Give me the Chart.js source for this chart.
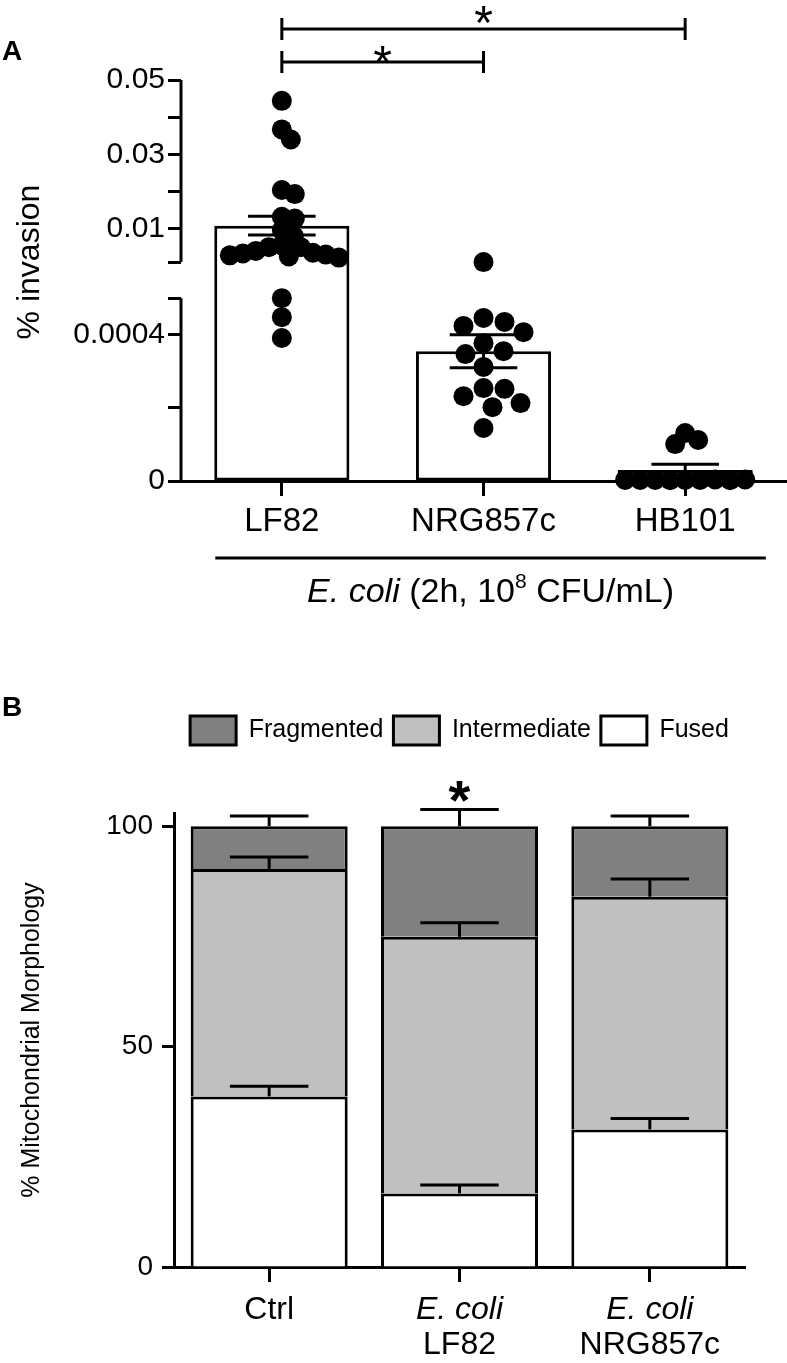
<!DOCTYPE html>
<html>
<head>
<meta charset="utf-8">
<script src="https://cdn.jsdelivr.net/npm/chart.js@4.4.0/dist/chart.umd.min.js"></script>
<style>
  html, body { margin: 0; padding: 0; background: #fff; }
  #wrap { position: relative; width: 787px; height: 1363px; }
  #chartA { position: absolute; left: 0; top: 0; }
  #chartB { position: absolute; left: 0; top: 625px; }
</style>
</head>
<body>
<div id="wrap">
  <canvas id="chartA" width="787" height="625"></canvas>
  <canvas id="chartB" width="787" height="738"></canvas>
</div>
<script>
const FONT = "'Liberation Sans', Arial, Helvetica, sans-serif";
Chart.defaults.font.family = FONT;
Chart.defaults.color = '#000';

// ---- panel A data ----
const strainsA = ['LF82', 'NRG857c', 'HB101'];
const invasionMean = [0.0108, 0.000355, 0.00003];
const invasionSem = [0.0025, 0.000045, 0.000016];
const lf82Dots = [0.0444, 0.0367, 0.0340, 0.0204, 0.0193, 0.0132, 0.0127, 0.0096, 0.0080,
  0.0055, 0.0050, 0.0050, 0.0040, 0.0035, 0.0033, 0.0030, 0.0028, 0.0025, 0.0022,
  0.0005, 0.000448, 0.000391];
const nrgDots = [0.001, 0.000446, 0.000435, 0.000424, 0.000407, 0.000377, 0.000355, 0.000347,
  0.000312, 0.000254, 0.000252, 0.000232, 0.000213, 0.000202, 0.000145];
const hb101Dots = [0.000131, 0.000112, 0.000101, 0.000003, 0.000003, 0.000002, 0.000004,
  0.000003, 0.000002, 0.000003, 0.000004, 0.000003];
const yTicksA = [0, 0.0002, 0.0004, 0.0005, 0.001, 0.01, 0.02, 0.03, 0.04, 0.05];
const yTickLabelsA = ['0', '', '0.0004', '', '', '0.01', '', '0.03', '', '0.05'];
const yTitleA = '% invasion';
const sigPairsA = [[0, 2], [0, 1]];
const groupCaption = [
  { text: 'E. coli', italic: true },
  { text: ' (2h, 10' },
  { text: '8', sup: true },
  { text: ' CFU/mL)' }
];

// ---- panel B data ----
const conditionsB = [['Ctrl'], ['E. coli', 'LF82'], ['E. coli', 'NRG857c']];
const speciesName = 'E. coli';
const morphNames = ['Fused', 'Intermediate', 'Fragmented'];
const fused = [38.7, 16.7, 31.2];
const intermediate = [51.6, 58.2, 52.8];
const fragmented = [9.7, 25.1, 16.0];
const fusedSem = [2.3, 1.9, 2.5];
const intermediateSem = [2.7, 3.2, 4.0];
const fragmentedSem = [2.3, 3.8, 2.3];
const starredB = [1];

const morphSeries = [fused, intermediate, fragmented];
const morphSem = [fusedSem, intermediateSem, fragmentedSem];
const morphColors = ['#ffffff', '#c0c0c0', '#808080'];

// linear axis with a break between two value ranges
class BrokenLinearScale extends Chart.LinearScale {
  static id = 'brokenLinear';

  toDecimal(v) {
    const { low, high, lowFrac, gapFrac } = this.options.brk;
    if (v <= low) return v / low * lowFrac;
    if (v < high) return lowFrac + (v - low) / (high - low) * gapFrac;
    return lowFrac + gapFrac + (v - high) / (this.max - high) * (1 - lowFrac - gapFrac);
  }
  getPixelForValue(v) {
    if (v === null || isNaN(v)) return NaN;
    return this.getPixelForDecimal(this.toDecimal(v));
  }
  getValueForPixel(p) {
    const { low, high, lowFrac, gapFrac } = this.options.brk;
    const d = this.getDecimalForPixel(p);
    if (d <= lowFrac) return d / lowFrac * low;
    if (d < lowFrac + gapFrac) return low + (d - lowFrac) / gapFrac * (high - low);
    return high + (d - lowFrac - gapFrac) / (1 - lowFrac - gapFrac) * (this.max - high);
  }
  buildTicks() {
    return this.options.tickValues.map(v => ({ value: v }));
  }
}
Chart.register(BrokenLinearScale);

function line(ctx, x1, y1, x2, y2) {
  ctx.beginPath();
  ctx.moveTo(x1, y1);
  ctx.lineTo(x2, y2);
  ctx.stroke();
}

// asterisk, placed by the centre of the glyph
function drawStar(ctx, x, yc, size, bold) {
  ctx.font = (bold ? 'bold ' : '') + size + 'px ' + FONT;
  ctx.textAlign = 'center';
  ctx.textBaseline = 'alphabetic';
  ctx.fillText('*', x, yc + size * 0.57);
}

function drawRich(ctx, parts, cx, cy, size) {
  const fontOf = p => (p.italic ? 'italic ' : '') + (p.sup ? Math.round(size * 0.62) : size) + 'px ' + FONT;
  let total = 0;
  parts.forEach(p => { ctx.font = fontOf(p); total += ctx.measureText(p.text).width; });
  let x = cx - total / 2;
  const base = cy + size * 0.36;
  ctx.textAlign = 'left';
  ctx.textBaseline = 'alphabetic';
  parts.forEach(p => {
    ctx.font = fontOf(p);
    ctx.fillText(p.text, x, p.sup ? base - size * 0.42 : base);
    x += ctx.measureText(p.text).width;
  });
}

const overlayA = {
  id: 'overlayA',
  afterDatasetDraw(chart, args) {
    if (args.index !== 0) return;
    const ctx = chart.ctx, ys = chart.scales.y;
    ctx.save();
    ctx.strokeStyle = '#000';
    ctx.lineWidth = 3;
    args.meta.data.forEach((bar, i) => {
      const top = ys.getPixelForValue(invasionMean[i] + invasionSem[i]);
      const bot = ys.getPixelForValue(invasionMean[i] - invasionSem[i]);
      const half = bar.width * 0.25;
      line(ctx, bar.x, top, bar.x, bot);
      line(ctx, bar.x - half, top, bar.x + half, top);
      line(ctx, bar.x - half, bot, bar.x + half, bot);
    });
    ctx.restore();
  },
  afterDraw(chart) {
    const ctx = chart.ctx, xs = chart.scales.x, ys = chart.scales.y;
    const brk = ys.options.brk;
    ctx.save();
    ctx.strokeStyle = '#000';
    ctx.fillStyle = '#000';
    ctx.lineWidth = 3;
    // broken y axis line
    const ax = ys.right;
    line(ctx, ax, ys.getPixelForValue(0) + 1.5, ax, ys.getPixelForValue(brk.low));
    line(ctx, ax, ys.getPixelForValue(brk.high), ax, ys.getPixelForValue(ys.max));
    // y title
    ctx.save();
    ctx.translate(30, 262);
    ctx.rotate(-Math.PI / 2);
    ctx.font = '32px ' + FONT;
    ctx.textAlign = 'center';
    ctx.textBaseline = 'middle';
    ctx.fillText(yTitleA, 0, 0);
    ctx.restore();
    // significance brackets
    const rows = [{ y: 29, starDy: 17 }, { y: 62, starDy: 10 }];
    sigPairsA.forEach((pair, k) => {
      const x1 = xs.getPixelForValue(pair[0]), x2 = xs.getPixelForValue(pair[1]);
      const y = rows[k].y;
      line(ctx, x1, y, x2, y);
      line(ctx, x1, y - 11, x1, y + 11);
      line(ctx, x2, y - 11, x2, y + 11);
      drawStar(ctx, (x1 + x2) / 2, y - rows[k].starDy, 48, false);
    });
    // group line and caption
    const gx1 = xs.getPixelForValue(-0.33), gx2 = xs.getPixelForValue(2.4);
    line(ctx, gx1, 558, gx2, 558);
    drawRich(ctx, groupCaption, (gx1 + gx2) / 2, 590, 34);
    // panel letter
    ctx.font = 'bold 28px ' + FONT;
    ctx.textAlign = 'left';
    ctx.textBaseline = 'alphabetic';
    ctx.fillText('A', 2, 60);
    ctx.restore();
  }
};

const chartA = new Chart(document.getElementById('chartA'), {
  type: 'bar',
  data: {
    datasets: [
      {
        type: 'bar',
        data: invasionMean.map((m, i) => ({ x: i, y: m })),
        backgroundColor: '#ffffff',
        borderColor: '#000',
        borderWidth: 3,
        borderSkipped: false,
        barPercentage: 0.67,
        categoryPercentage: 1,
        order: 2
      },
      ...[lf82Dots, nrgDots, hb101Dots].map((vals, g) => ({
        type: 'scatter',
        data: vals.map(v => ({ x: g, y: v })),
        pointRadius: 10,
        pointHoverRadius: 10,
        pointBackgroundColor: '#000',
        pointBorderWidth: 0,
        clip: false,
        order: 1
      }))
    ]
  },
  options: {
    responsive: false,
    animation: false,
    events: [],
    layout: { autoPadding: false, padding: { top: 80, right: 1 } },
    plugins: { legend: { display: false }, tooltip: { enabled: false } },
    scales: {
      x: {
        type: 'linear',
        offset: false,
        min: -0.5,
        max: 2.5,
        afterBuildTicks: s => { s.ticks = strainsA.map((_, i) => ({ value: i })); },
        ticks: { callback: v => strainsA[v], font: { size: 33 }, padding: 6, maxRotation: 0, autoSkip: false },
        grid: { offset: false, drawOnChartArea: false, tickLength: 15, tickWidth: 3, tickColor: '#000' },
        border: { color: '#000', width: 3 },
        afterFit: s => { s.height = 144; }
      },
      y: {
        type: 'brokenLinear',
        min: 0,
        max: 0.05,
        brk: { low: 0.0005, high: 0.001, lowFrac: 0.456, gapFrac: 0.09 },
        tickValues: yTicksA,
        ticks: { autoSkip: false, callback: (v, i) => yTickLabelsA[i], font: { size: 30 }, padding: 3 },
        grid: { drawOnChartArea: false, tickLength: 13, tickWidth: 3, tickColor: '#000' },
        border: { display: false },
        afterFit: s => { s.width = 181; }
      }
    }
  },
  plugins: [overlayA]
});

// spread the dots of each strain sideways so they do not pile up
function placeSwarm(chart) {
  const xs = chart.scales.x, ys = chart.scales.y;
  const unit = xs.getPixelForValue(1) - xs.getPixelForValue(0);
  const spacing = [13, 21, 14.5];
  [lf82Dots, nrgDots, hb101Dots].forEach((vals, g) => {
    const ds = chart.data.datasets[g + 1];
    const minD = spacing[g];
    const placed = [];
    vals.forEach((v, i) => {
      const py = ys.getPixelForValue(v);
      let dx = 0;
      for (let k = 0; k < 400; k++) {
        const cand = (k % 2 ? 1 : -1) * Math.ceil(k / 2);
        if (placed.every(p => (p.dx - cand) ** 2 + (p.py - py) ** 2 >= minD * minD)) { dx = cand; break; }
      }
      placed.push({ dx, py });
      ds.data[i].x = g + dx / unit;
    });
  });
  chart.update('none');
}
placeSwarm(chartA);

// ---- panel B ----
const legendGap = {
  id: 'legendGap',
  beforeLayout(chart, args, opts) {
    const lg = chart.legend;
    if (lg && !lg._gapPatched) {
      const fit = lg.fit;
      lg.fit = function () { fit.call(this); this.height += opts.gap; };
      lg._gapPatched = true;
    }
  }
};

const overlayB = {
  id: 'overlayB',
  afterDatasetsDraw(chart) {
    const ctx = chart.ctx, ys = chart.scales.y;
    ctx.save();
    ctx.strokeStyle = '#000';
    ctx.fillStyle = '#000';
    ctx.lineWidth = 3;
    chart.data.datasets.forEach((ds, d) => {
      chart.getDatasetMeta(d).data.forEach((bar, i) => {
        let top = 0;
        for (let k = 0; k <= d; k++) top += morphSeries[k][i];
        const tip = ys.getPixelForValue(top + morphSem[d][i]);
        const half = bar.width * 0.25;
        line(ctx, bar.x, bar.y, bar.x, tip);
        line(ctx, bar.x - half, tip, bar.x + half, tip);
        if (d === morphSeries.length - 1 && starredB.includes(i)) {
          drawStar(ctx, bar.x, tip - 22, 56, true);
        }
      });
    });
    ctx.restore();
  },
  afterDraw(chart) {
    const ctx = chart.ctx, xs = chart.scales.x;
    ctx.save();
    ctx.fillStyle = '#000';
    ctx.textAlign = 'center';
    ctx.textBaseline = 'middle';
    const y0 = chart.chartArea.bottom + 43;
    conditionsB.forEach((lines, i) => {
      const x = xs.getPixelForValue(i);
      lines.forEach((t, k) => {
        ctx.font = (t === speciesName ? 'italic ' : '') + '32px ' + FONT;
        ctx.fillText(t, x, y0 + k * 35);
      });
    });
    ctx.font = 'bold 28px ' + FONT;
    ctx.textAlign = 'left';
    ctx.textBaseline = 'alphabetic';
    ctx.fillText('B', 2, 91);
    ctx.restore();
  }
};

new Chart(document.getElementById('chartB'), {
  type: 'bar',
  data: {
    labels: conditionsB.map(c => c.join(' ')),
    datasets: morphSeries.map((vals, d) => ({
      label: morphNames[d],
      data: vals,
      backgroundColor: morphColors[d],
      borderColor: '#000',
      borderWidth: 3,
      barPercentage: 0.825,
      categoryPercentage: 1
    }))
  },
  options: {
    responsive: false,
    animation: false,
    events: [],
    layout: { padding: { top: 81, right: 42 } },
    plugins: {
      legend: {
        position: 'top',
        fullSize: false,
        reverse: true,
        labels: { boxWidth: 46, boxHeight: 29, padding: 10, font: { size: 25 }, color: '#000' }
      },
      legendGap: { gap: 58 },
      tooltip: { enabled: false }
    },
    scales: {
      x: {
        stacked: true,
        ticks: { display: false },
        grid: { offset: false, drawOnChartArea: false, tickLength: 15, tickWidth: 3, tickColor: '#000' },
        border: { color: '#000', width: 3 },
        afterFit: s => { s.height = 96; }
      },
      y: {
        stacked: true,
        min: 0,
        max: 103,
        ticks: { stepSize: 50, includeBounds: false, font: { size: 28 }, padding: 9 },
        grid: { drawOnChartArea: false, tickLength: 12, tickWidth: 3, tickColor: '#000' },
        border: { color: '#000', width: 3 },
        title: { display: true, text: '% Mitochondrial Morphology', font: { size: 25 }, padding: { top: 17 } },
        afterFit: s => { s.width = 174; }
      }
    }
  },
  plugins: [legendGap, overlayB]
});
</script>
</body>
</html>
